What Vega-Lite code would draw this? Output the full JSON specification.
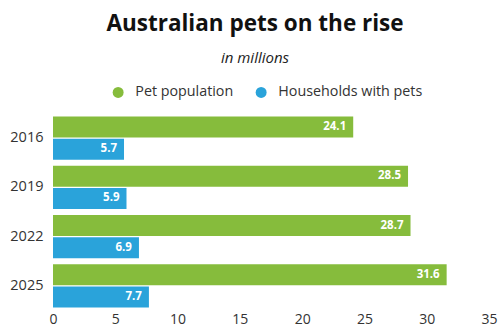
{
  "$schema": "https://vega.github.io/schema/vega-lite/v6.json",
  "width": 436,
  "height": 194,
  "autosize": {"type": "none"},
  "padding": {"left": 53, "top": 115, "right": 10, "bottom": 20},
  "background": "white",
  "title": {
    "text": "Australian pets on the rise",
    "subtitle": "in millions",
    "anchor": "middle",
    "dx": -16,
    "font": "Open Sans",
    "fontSize": 22.5,
    "fontWeight": "bold",
    "color": "#111111",
    "subtitleFont": "Open Sans",
    "subtitleFontSize": 15,
    "subtitleFontStyle": "italic",
    "subtitleColor": "#222222",
    "subtitlePadding": 16,
    "offset": 19
  },
  "config": {
    "view": {"stroke": null},
    "font": "Open Sans",
    "legend": {
      "orient": "none",
      "legendX": 58,
      "legendY": -30,
      "direction": "horizontal",
      "title": null,
      "symbolType": "circle",
      "symbolSize": 120,
      "labelFont": "Open Sans",
      "labelFontSize": 14.3,
      "labelColor": "#333333",
      "columnPadding": 20,
      "labelOffset": 10
    }
  },
  "data": {
    "values": [
      {"year": "2016", "series": "Pet population", "value": 24.1},
      {"year": "2016", "series": "Households with pets", "value": 5.7},
      {"year": "2019", "series": "Pet population", "value": 28.5},
      {"year": "2019", "series": "Households with pets", "value": 5.9},
      {"year": "2022", "series": "Pet population", "value": 28.7},
      {"year": "2022", "series": "Households with pets", "value": 6.9},
      {"year": "2025", "series": "Pet population", "value": 31.6},
      {"year": "2025", "series": "Households with pets", "value": 7.7}
    ]
  },
  "encoding": {
    "y": {
      "field": "year",
      "type": "nominal",
      "scale": {"paddingInner": 0.12, "paddingOuter": 0.03},
      "axis": {
        "title": null,
        "domain": false,
        "ticks": false,
        "labelFontSize": 14.5,
        "labelColor": "#333333",
        "labelPadding": 10
      }
    },
    "yOffset": {
      "field": "series",
      "type": "nominal",
      "sort": ["Pet population", "Households with pets"],
      "scale": {"paddingInner": 0.05}
    },
    "x": {
      "field": "value",
      "type": "quantitative",
      "scale": {"domain": [0, 35], "nice": false},
      "axis": {
        "title": null,
        "values": [0, 5, 10, 15, 20, 25, 30, 35],
        "grid": false,
        "domain": false,
        "ticks": false,
        "labelFontSize": 14,
        "labelColor": "#333333",
        "labelPadding": 3,
        "labelFlush": false
      }
    }
  },
  "layer": [
    {
      "mark": {"type": "bar"},
      "encoding": {
        "color": {
          "field": "series",
          "type": "nominal",
          "sort": ["Pet population", "Households with pets"],
          "scale": {
            "domain": ["Pet population", "Households with pets"],
            "range": ["#86bc3c", "#2aa3da"]
          }
        }
      }
    },
    {
      "mark": {
        "type": "text",
        "align": "right",
        "dx": -7,
        "color": "white",
        "fontWeight": "bold",
        "fontSize": 11.5
      },
      "encoding": {
        "text": {"field": "value", "type": "quantitative", "format": ".1f"}
      }
    }
  ]
}
